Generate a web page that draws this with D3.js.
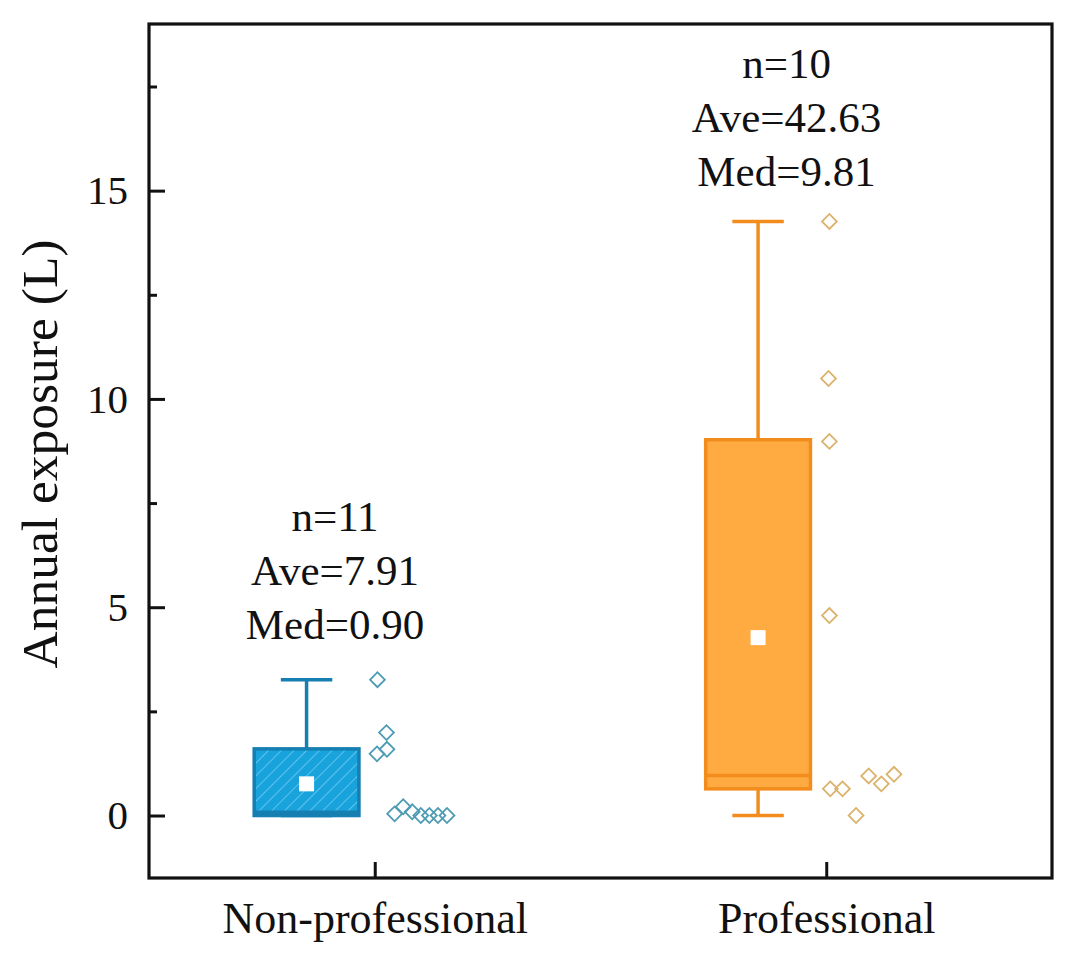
<!DOCTYPE html>
<html>
<head>
<meta charset="utf-8">
<script src="https://cdn.jsdelivr.net/npm/d3@7/dist/d3.min.js"></script>
<style>
  html, body { margin: 0; padding: 0; background: #fff; }
  svg { display: block; }
  text { font-family: "Liberation Serif", "Times New Roman", serif; fill: #111; }
</style>
</head>
<body>
<svg id="chart" width="1080" height="954"></svg>
<script>
// ---- data ----
const categories = ["Non-professional", "Professional"];
const q1 = [0.00, 0.64];
const median = [0.08, 0.96];
const q3 = [1.60, 9.02];
const whiskerLow = [0.00, 0.00];
const whiskerHigh = [3.26, 14.26];
const mean = [0.76, 4.27];

const nonProValues = [3.26, 1.99, 1.48, 1.59, 0.04, 0.21, 0.09, 0.00, 0.00, 0.00, 0.00];
const nonProJitter = [0.006, 0.026, 0.005, 0.027, 0.044, 0.063, 0.083, 0.102, 0.121, 0.140, 0.160];
const proValues = [14.26, 10.49, 8.98, 4.80, 0.64, 0.64, 0.00, 0.95, 0.76, 0.99];
const proJitter = [0.007, 0.005, 0.007, 0.007, 0.009, 0.036, 0.066, 0.094, 0.122, 0.150];

const annoLines = [["n=11", "Ave=7.91", "Med=0.90"], ["n=10", "Ave=42.63", "Med=9.81"]];
const annoBaseValue = [4.24, 15.10];

const yMajorTicks = [0, 5, 10, 15];
const yMinorTicks = [2.5, 7.5, 12.5, 17.5];
const yTitle = "Annual exposure (L)";

// ---- styles ----
const fillColors = ["#19a3dc", "#ffab42"];
const edgeColors = ["#167fb1", "#f28d1d"];
const dotColors = ["#4e9cb4", "#dcb26c"];

const W = 1080, H = 954;
const margin = { left: 149, right: 28, top: 24, bottom: 76 };
const svg = d3.select("#chart");

const x = d3.scaleLinear().domain([0.5, 2.5]).range([margin.left, W - margin.right]);
const y = d3.scaleLinear().domain([-1.5, 19]).range([H - margin.bottom, margin.top]);

const boxOffset = -0.151, boxWidth = 0.232, capWidth = 0.114, annoOffset = -0.088;
const lineGap = 54;

// hatch pattern
const defs = svg.append("defs");
const pat = defs.append("pattern")
  .attr("id", "hatch").attr("patternUnits", "userSpaceOnUse")
  .attr("width", 9).attr("height", 9)
  .attr("patternTransform", "rotate(45)");
pat.append("rect").attr("width", 9).attr("height", 9).attr("fill", fillColors[0]);
pat.append("line").attr("x1", 0).attr("y1", 0).attr("x2", 0).attr("y2", 9)
  .attr("stroke", "#5fc2ec").attr("stroke-width", 2);

const boxes = categories.map((c, i) => ({
  i, c, q1: q1[i], med: median[i], q3: q3[i], lo: whiskerLow[i], hi: whiskerHigh[i], mean: mean[i]
}));

const g = svg.append("g");

boxes.forEach(b => {
  const cx = b.i + 1 + boxOffset;
  const gx = g.append("g");
  gx.append("line")
    .attr("x1", x(cx)).attr("x2", x(cx))
    .attr("y1", y(b.q3)).attr("y2", y(b.hi))
    .attr("stroke", edgeColors[b.i]).attr("stroke-width", 3.5);
  gx.append("line")
    .attr("x1", x(cx)).attr("x2", x(cx))
    .attr("y1", y(b.q1)).attr("y2", y(b.lo))
    .attr("stroke", edgeColors[b.i]).attr("stroke-width", 3.5);
  [b.hi, b.lo].forEach(v => {
    gx.append("line")
      .attr("x1", x(cx - capWidth / 2)).attr("x2", x(cx + capWidth / 2))
      .attr("y1", y(v)).attr("y2", y(v))
      .attr("stroke", edgeColors[b.i]).attr("stroke-width", 3.5);
  });
  gx.append("rect")
    .attr("x", x(cx - boxWidth / 2))
    .attr("width", x(cx + boxWidth / 2) - x(cx - boxWidth / 2))
    .attr("y", y(b.q3))
    .attr("height", y(b.q1) - y(b.q3))
    .attr("fill", b.i === 0 ? "url(#hatch)" : fillColors[b.i])
    .attr("stroke", edgeColors[b.i]).attr("stroke-width", 3.5);
  gx.append("line")
    .attr("x1", x(cx - boxWidth / 2)).attr("x2", x(cx + boxWidth / 2))
    .attr("y1", y(b.med)).attr("y2", y(b.med))
    .attr("stroke", edgeColors[b.i]).attr("stroke-width", 3.5);
  gx.append("path")
    .attr("d", d3.symbol().type(d3.symbolSquare).size(225)())
    .attr("transform", `translate(${x(cx)},${y(b.mean)})`)
    .attr("fill", "#fff");
});

// data points
const pointSets = [
  nonProValues.map((v, k) => ({ v, j: nonProJitter[k], i: 0 })),
  proValues.map((v, k) => ({ v, j: proJitter[k], i: 1 }))
];
const diamond = d3.symbol().type(d3.symbolSquare).size(110)();
pointSets.forEach(set => {
  g.append("g").selectAll("path").data(set).join("path")
    .attr("d", diamond)
    .attr("transform", d => `translate(${x(d.i + 1 + d.j)},${y(d.v)}) rotate(45)`)
    .attr("fill", "none")
    .attr("stroke", d => dotColors[d.i])
    .attr("stroke-width", 1.8);
});

// annotations
annoLines.forEach((lines, i) => {
  const t = g.append("text")
    .attr("text-anchor", "middle")
    .attr("font-size", 43);
  lines.forEach((s, k) => {
    t.append("tspan")
      .attr("x", x(i + 1 + annoOffset))
      .attr("y", y(annoBaseValue[i]) - (lines.length - 1 - k) * lineGap)
      .text(s);
  });
});

// axes
const yAxis = d3.axisLeft(y).tickValues(yMajorTicks).tickSize(-16).tickPadding(21).tickFormat(d3.format("d"));
const yAxisG = svg.append("g").attr("transform", `translate(${margin.left},0)`).call(yAxis);
const yMinor = d3.axisLeft(y).tickValues(yMinorTicks).tickSize(-8).tickFormat("");
const yMinorG = svg.append("g").attr("transform", `translate(${margin.left},0)`).call(yMinor);
const xAxis = d3.axisBottom(x).tickValues([1, 2]).tickSize(-16).tickPadding(24)
  .tickFormat(d => categories[d - 1]);
const xAxisG = svg.append("g").attr("transform", `translate(0,${H - margin.bottom})`).call(xAxis);

[yAxisG, yMinorG, xAxisG].forEach(a => {
  a.select(".domain").remove();
  a.selectAll(".tick line").attr("stroke", "#111").attr("stroke-width", 3);
});
yAxisG.selectAll(".tick text").attr("font-size", 41).attr("fill", "#111")
  .attr("font-family", "Liberation Serif, serif");
xAxisG.selectAll(".tick text").attr("font-size", 44).attr("fill", "#111")
  .attr("font-family", "Liberation Serif, serif").attr("dy", "0.71em");

// frame
svg.append("rect")
  .attr("x", margin.left).attr("y", margin.top)
  .attr("width", W - margin.left - margin.right)
  .attr("height", H - margin.top - margin.bottom)
  .attr("fill", "none").attr("stroke", "#111").attr("stroke-width", 3.2);

// y title
svg.append("text")
  .attr("transform", `translate(57,${(y(19) + y(-1.5)) / 2 + 3}) rotate(-90)`)
  .attr("text-anchor", "middle")
  .attr("font-size", 51.5)
  .text(yTitle);
</script>
</body>
</html>
